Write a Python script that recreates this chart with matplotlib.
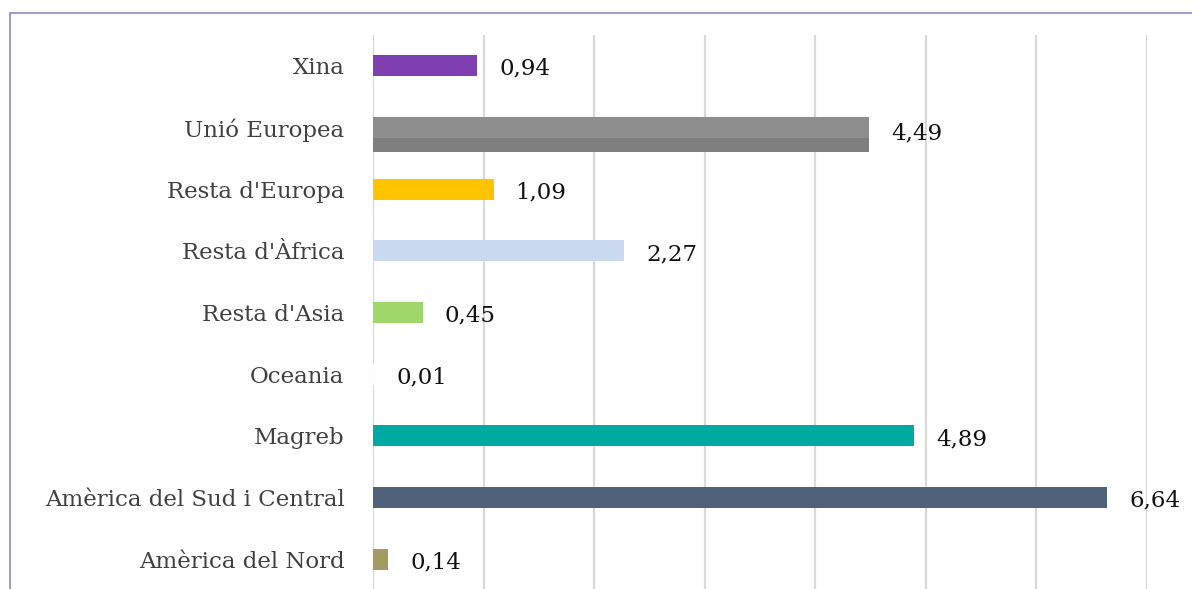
import matplotlib
matplotlib.use("Agg")
import matplotlib.pyplot as plt
from matplotlib.patches import Rectangle

categories = ["Amèrica del Nord", "Amèrica del Sud i Central", "Magreb", "Oceania",
              "Resta d'Asia", "Resta d'Àfrica", "Resta d'Europa", "Unió Europea", "Xina"]
values = [0.14, 6.64, 4.89, 0.01, 0.45, 2.27, 1.09, 4.49, 0.94]
labels = ["0,14", "6,64", "4,89", "0,01", "0,45", "2,27", "1,09", "4,49", "0,94"]
colors = ["#a39c62", "#4f6279", "#00a9a2", "#ffffff", "#9fd76a", "#c9d9ef",
          "#ffc300", "#8e8e8e", "#7f3fb1"]

fig = plt.figure(figsize=(11.92, 5.89), dpi=100)
ax = fig.add_axes([373/1192, -0.002, (1147-373)/1192, 0.9426])

ypos = list(range(len(categories)))
ax.barh(ypos, values, height=0.34, color=colors, zorder=3)
# Unió Europea bar appears thicker with a darker lower strip
ue = categories.index("Unió Europea")
ax.barh([ue - 0.28], [values[ue]], height=0.22, color="#7f7f7f", zorder=3)

for y, v, lab in zip(ypos, values, labels):
    ax.text(v + 0.2, (y - 0.1) if y == ue else (y - 0.05), lab, va="center", ha="left",
            fontsize=16.5, family="DejaVu Serif", color="#111111")

ax.set_xlim(0, 7)
ax.set_ylim(-0.5, 8.5)
ax.set_xticks(range(0, 8))
ax.xaxis.grid(True, color="#d9d9d9", linewidth=1.6, zorder=0)
ax.set_axisbelow(True)
ax.tick_params(axis="x", bottom=False, labelbottom=False)
ax.tick_params(axis="y", left=False, pad=17)
ax.set_yticks(ypos)
ax.set_yticklabels(categories, fontsize=16.5, family="DejaVu Serif", color="#404040")
for s in ax.spines.values():
    s.set_visible(False)

fig.patches.append(Rectangle((10/1192, -0.1), 1.2, 1 - 13/589 + 0.1,
                             transform=fig.transFigure, fill=False,
                             edgecolor="#9494cc", linewidth=1.3))

fig.savefig("out.png", dpi=100)
